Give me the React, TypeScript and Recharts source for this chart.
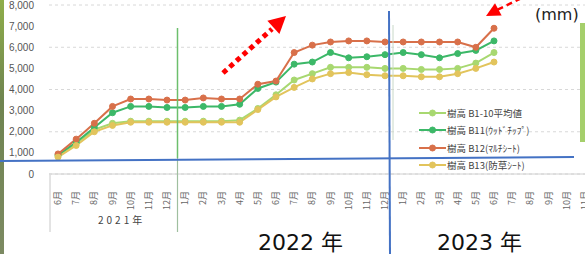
import React from "react";
import { LineChart, Line, XAxis, YAxis, CartesianGrid, Legend } from "recharts";

// ---- data ----
const years = [2021, 2022, 2023];
const monthsByYear: number[][] = [
  [6, 7, 8, 9, 10, 11, 12],
  [1, 2, 3, 4, 5, 6, 7, 8, 9, 10, 11, 12],
  [1, 2, 3, 4, 5, 6, 7, 8, 9, 10, 11, 12],
];
const yTicks = [0, 1000, 2000, 3000, 4000, 5000, 6000, 7000, 8000];

const seriesNames = [
  "樹高 B1-10平均値",
  "樹高 B11(ｳｯﾄﾞﾁｯﾌﾟ)",
  "樹高 B12(ﾏﾙﾁｼｰﾄ)",
  "樹高 B13(防草ｼｰﾄ)",
];
const b1to10 = [850, 1450, 2100, 2400, 2500, 2500, 2500, 2500, 2500, 2500, 2550, 3100, 3750, 4450, 4750, 5050, 5050, 5050, 5000, 5000, 4950, 4950, 5000, 5250, 5750];
const b11 = [900, 1500, 2200, 2900, 3200, 3200, 3150, 3150, 3200, 3200, 3300, 4050, 4350, 5200, 5300, 5750, 5500, 5550, 5650, 5750, 5650, 5500, 5700, 5850, 6300];
const b12 = [950, 1650, 2400, 3200, 3550, 3550, 3500, 3500, 3600, 3550, 3550, 4250, 4400, 5750, 6100, 6250, 6300, 6300, 6250, 6250, 6250, 6250, 6250, 6000, 6900];
const b13 = [800, 1350, 2000, 2300, 2450, 2450, 2450, 2450, 2450, 2450, 2450, 3050, 3650, 4100, 4500, 4750, 4800, 4700, 4650, 4650, 4600, 4600, 4750, 5000, 5300];

const colors = ["#a8d870", "#3cb868", "#d8704a", "#e2c45c"];
const keys = ["s0", "s1", "s2", "s3"];
const seriesValues = [b1to10, b11, b12, b13];

const ids: string[] = [];
years.forEach((y, yi) => monthsByYear[yi].forEach((m) => ids.push(`${y}-${m}`)));

const data = ids.map((id, i) => {
  const row: any = { id };
  keys.forEach((k, si) => {
    const v = seriesValues[si][i];
    row[k] = v === undefined ? null : v;
  });
  return row;
});

const fmt = (v: number) => String(v).replace(/\B(?=(\d{3})+(?!\d))/g, ",");

const XTick = (props: any) => {
  const { x, y, payload } = props;
  const label = String(payload.value).split("-")[1] + "月";
  return (
    <g transform={`translate(${x},${y + 9})`}>
      <text
        transform="rotate(-90)"
        textAnchor="end"
        dy="0.35em"
        fontSize={9}
        fill="#666"
        fontFamily="'Noto Sans CJK JP', sans-serif"
      >
        {label}
      </text>
    </g>
  );
};

const LegendContent = (props: any) => {
  const payload = props.payload || [];
  return (
    <div style={{ display: "flex", flexDirection: "column" }}>
      {payload.map((p: any, i: number) => (
        <div key={i} style={{ display: "flex", alignItems: "center", height: 17.5 }}>
          <svg width={27} height={10} style={{ display: "block" }}>
            <line x1={0} y1={5} x2={27} y2={5} stroke={p.color} strokeWidth={2} />
            <circle cx={13.5} cy={5} r={3} fill={p.color} stroke={p.color} />
          </svg>
          <span
            style={{
              fontSize: 9.5,
              color: "#444",
              marginLeft: 1,
              whiteSpace: "nowrap",
              fontFamily: "'Noto Sans CJK JP', sans-serif",
              lineHeight: "10px",
            }}
          >
            {p.value}
          </span>
        </div>
      ))}
    </div>
  );
};

// arrow helper for overlay annotations
const arrowHead = (tx: number, ty: number, dx: number, dy: number, len: number, half: number) => {
  const n = Math.sqrt(dx * dx + dy * dy);
  const ux = dx / n, uy = dy / n;
  const bx = tx - ux * len, by = ty - uy * len;
  const px = -uy, py = ux;
  return `${tx},${ty} ${bx + px * half},${by + py * half} ${bx - px * half},${by - py * half}`;
};

export default function App() {
  return (
    <div
      style={{
        position: "absolute",
        left: 0,
        top: 0,
        width: 585,
        height: 254,
        overflow: "hidden",
        background: "#fff",
      }}
    >
      <LineChart
        width={612}
        height={254}
        data={data}
        margin={{ top: 5, right: 0, bottom: 0, left: 0 }}
      >
        <CartesianGrid vertical={false} stroke="#d8d8d8" strokeDasharray="3 3" />
        <XAxis
          dataKey="id"
          interval={0}
          height={80}
          padding={{ left: 9, right: 9 }}
          tickLine={false}
          axisLine={{ stroke: "#d0d0d0" }}
          tick={<XTick />}
        />
        <YAxis
          width={49}
          domain={[0, 8000]}
          ticks={yTicks}
          tickLine={false}
          axisLine={false}
          tickMargin={9}
          tickFormatter={fmt}
          tick={{ fontSize: 10, fill: "#555", fontFamily: "'Liberation Sans', sans-serif" }}
        />
        <Legend
          layout="vertical"
          align="center"
          verticalAlign="middle"
          wrapperStyle={{ left: 419, top: 104, width: 130 }}
          content={<LegendContent />}
        />
        {keys.map((k, i) => (
          <Line
            key={k}
            dataKey={k}
            name={seriesNames[i]}
            stroke={colors[i]}
            strokeWidth={2}
            dot={{ r: 3, fill: colors[i], stroke: colors[i], strokeWidth: 1 }}
            isAnimationActive={false}
          />
        ))}
      </LineChart>
      <svg
        width={585}
        height={254}
        style={{ position: "absolute", left: 0, top: 0, pointerEvents: "none" }}
      >
        <defs>
          <linearGradient id="strip" x1="0" y1="0" x2="0" y2="1">
            <stop offset="0" stopColor="#8fae4a" />
            <stop offset="0.4" stopColor="#6f8450" />
            <stop offset="1" stopColor="#7c8a62" />
          </linearGradient>
        </defs>
        {/* photo edge */}
        <rect x={0} y={0} width={4} height={254} fill="url(#strip)" />
        {/* category axis box lines */}
        <line x1={50} y1={175} x2={50} y2={232} stroke="#c8c8c8" strokeWidth={1} />
        <line x1={177.5} y1={158} x2={177.5} y2={232} stroke="#9fbf9f" strokeWidth={1.2} />
        <line x1={177.5} y1={28} x2={177.5} y2={158} stroke="#6cbf6c" strokeWidth={1.5} />
        <line x1={393} y1={25} x2={393} y2={140} stroke="#c8d8c8" strokeWidth={1} />
        <text
          x={98}
          y={224}
          fontSize={10}
          fill="#444"
          letterSpacing={3}
          fontFamily="'Noto Sans CJK JP', sans-serif"
        >
          2021年
        </text>
        {/* blue annotation lines */}
        <line x1={0} y1={161} x2={574} y2={157} stroke="#4472c4" strokeWidth={2} />
        <line x1={389} y1={11} x2={390} y2={254} stroke="#4472c4" strokeWidth={2} />
        {/* red dotted arrows */}
        <line x1={223} y1={73} x2={272} y2={29} stroke="#ff0000" strokeWidth={5} strokeDasharray="5 4" />
        <polygon points={arrowHead(286, 16, 62, -56, 17, 9)} fill="#ff0000" />
        <line x1={530} y1={-6} x2={497} y2={10} stroke="#ff0000" strokeWidth={2.5} strokeDasharray="6 4" />
        <polygon points={arrowHead(486, 16, -39, 21, 14, 7)} fill="#ff0000" />
        {/* annotation texts */}
        <text x={535} y={20} fontSize={16} fill="#222" fontFamily="'DejaVu Sans', sans-serif">
          (mm)
        </text>
        <text x={258} y={250} fontSize={22} fill="#111" fontFamily="'DejaVu Sans', 'Noto Sans CJK JP', sans-serif">
          2022 年
        </text>
        <text x={437} y={250} fontSize={22} fill="#111" fontFamily="'DejaVu Sans', 'Noto Sans CJK JP', sans-serif">
          2023 年
        </text>
        {/* green side bar */}
        <rect x={580} y={23} width={5} height={119} fill="#a5cf6b" />
      </svg>
    </div>
  );
}
